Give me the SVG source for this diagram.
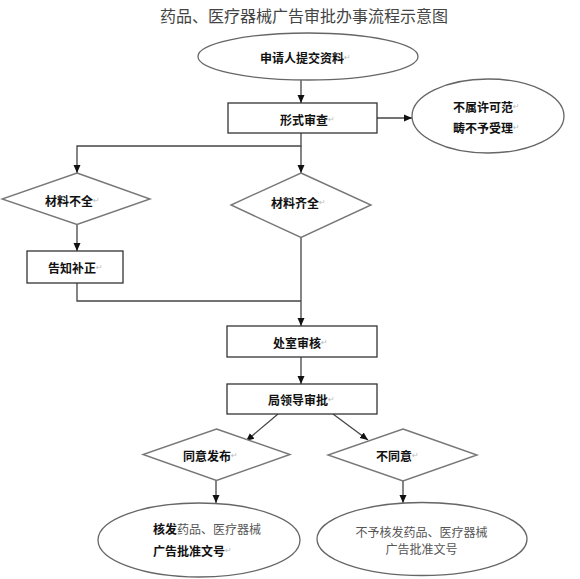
<svg xmlns="http://www.w3.org/2000/svg" width="580" height="579" viewBox="0 0 580 579">
<defs>
<marker id="ah" markerWidth="8" markerHeight="8" refX="8" refY="4" orient="auto" markerUnits="userSpaceOnUse">
<path d="M0,0.5 L8,4 L0,7.5 Z" fill="#111"/>
</marker>
<style>
.t{font-family:"Noto Sans CJK SC","Liberation Sans",sans-serif;font-size:12px;font-weight:bold;fill:#111;dominant-baseline:central}
.r{font-family:"Noto Sans CJK SC","Liberation Sans",sans-serif;font-size:12px;font-weight:normal;fill:#555;dominant-baseline:central}
.pm{font-family:"DejaVu Sans",sans-serif;font-size:8px;font-weight:normal;fill:#bbb}
.box{fill:#fff;stroke:#333;stroke-width:1.3}
.dia{fill:#fff;stroke:#777;stroke-width:1.4}
.ell{fill:#fff;stroke:#666;stroke-width:1.3}
.c{fill:none;stroke:#444;stroke-width:1.3}
.ca{fill:none;stroke:#444;stroke-width:1.3;marker-end:url(#ah)}
</style>
</defs>
<rect width="580" height="579" fill="#fff"/>
<text x="304" y="15" text-anchor="middle" style="font-family:'Noto Sans CJK SC','Liberation Sans',sans-serif;font-size:16px;fill:#444;dominant-baseline:central">药品、医疗器械广告审批办事流程示意图</text>

<g id="connectors">
<line class="ca" x1="301" y1="80" x2="301" y2="103"/>
<line class="ca" x1="377" y1="118" x2="412" y2="118"/>
<path class="ca" d="M301,133 V146 H77 V173"/>
<path class="ca" d="M301,146 V173"/>
<line class="ca" x1="77" y1="224" x2="77" y2="251"/>
<path class="c" d="M77,283 V301 H301"/>
<path class="ca" d="M301,237 V326"/>
<line class="ca" x1="301" y1="357" x2="301" y2="384"/>
<line class="ca" x1="278" y1="414" x2="246" y2="441"/>
<line class="ca" x1="333" y1="414" x2="368" y2="440"/>
<line class="ca" x1="216" y1="480" x2="216" y2="503"/>
<line class="ca" x1="403" y1="481" x2="403" y2="503"/>
</g>

<g id="start">
<ellipse class="ell" cx="308" cy="56.5" rx="110" ry="23.5"/>
<text class="t" x="260" y="57">申请人提交资料<tspan class="pm">↵</tspan></text>
</g>

<g id="formal-review">
<rect class="box" x="228" y="103" width="149" height="30"/>
<text class="t" x="280" y="119">形式审查<tspan class="pm">↵</tspan></text>
</g>

<g id="reject-scope">
<ellipse class="ell" cx="488" cy="116" rx="76" ry="37"/>
<text class="t" x="453" y="106">不属许可范<tspan class="pm">↵</tspan></text>
<text class="t" x="453" y="127">畴不予受理<tspan class="pm">↵</tspan></text>
</g>

<g id="incomplete">
<polygon class="dia" points="77,173 150,199 77,224.5 2,199"/>
<text class="t" x="45" y="200">材料不全<tspan class="pm">↵</tspan></text>
</g>

<g id="notify">
<rect class="box" x="27" y="251" width="96" height="32"/>
<text class="t" x="48" y="267">告知补正<tspan class="pm">↵</tspan></text>
</g>

<g id="complete">
<polygon class="dia" points="301,173 371,205 301,237.5 231,205"/>
<text class="t" x="271" y="202">材料齐全<tspan class="pm">↵</tspan></text>
</g>

<g id="dept-review">
<rect class="box" x="227" y="326" width="150" height="31"/>
<text class="t" x="273" y="342">处室审核<tspan class="pm">↵</tspan></text>
</g>

<g id="leader-approve">
<rect class="box" x="227" y="384" width="150" height="30"/>
<text class="t" x="268" y="399">局领导审批<tspan class="pm">↵</tspan></text>
</g>

<g id="agree">
<polygon class="dia" points="216.5,429 290,454.5 216.5,480.5 143,454.5"/>
<text class="t" x="183" y="455">同意发布<tspan class="pm">↵</tspan></text>
</g>

<g id="disagree">
<polygon class="dia" points="403,429 477,455 403,481 328,455"/>
<text class="t" x="376" y="455">不同意<tspan class="pm">↵</tspan></text>
</g>

<g id="issue">
<ellipse class="ell" cx="199" cy="540" rx="101" ry="37"/>
<text class="t" x="153" y="528">核发<tspan class="r">药品、医疗器械</tspan></text>
<text class="t" x="153" y="550">广告批准文号<tspan class="pm">↵</tspan></text>
</g>

<g id="no-issue">
<ellipse class="ell" cx="422" cy="539" rx="105" ry="36.5"/>
<text class="r" x="421.5" y="531" text-anchor="middle" font-size="11.5">不予核发药品、医疗器械</text>
<text class="r" x="421.5" y="548.5" text-anchor="middle" font-size="11.5">广告批准文号</text>
</g>
</svg>
